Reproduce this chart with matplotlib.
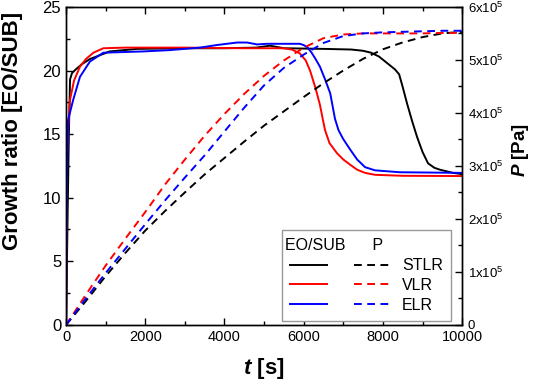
import numpy as np
import matplotlib.pyplot as plt
from matplotlib.ticker import MultipleLocator, FuncFormatter
from matplotlib.lines import Line2D

plt.rcParams['font.family'] = ['Liberation Sans', 'DejaVu Sans']
plt.rcParams['mathtext.fontset'] = 'custom'
plt.rcParams['mathtext.rm'] = 'Liberation Sans'
plt.rcParams['mathtext.it'] = 'Liberation Sans:italic'
plt.rcParams['mathtext.bf'] = 'Liberation Sans:bold'
plt.rcParams['mathtext.bfit'] = 'Liberation Sans:italic:bold'
plt.rcParams['mathtext.default'] = 'regular'

# growth ratio EO/SUB vs time, one array pair per reactor
t_stlr = [0, 40, 70, 100, 150, 250, 400, 600, 1100, 1800, 3000, 4000, 4800, 5150, 5500,
          6500, 7200, 7500, 7700, 7900, 8100, 8300, 8410, 8500, 8610, 8740, 8860, 9000, 9140,
          9300, 9440, 9770, 10000]
g_stlr = [0, 9, 15, 19.3, 19.8, 20.1, 20.5, 20.9, 21.5, 21.7, 21.75, 21.75, 21.8, 21.95, 21.75,
          21.7, 21.65, 21.55, 21.4, 21.1, 20.6, 20.1, 19.7, 18.7, 17.4, 16.0, 14.8, 13.6, 12.7,
          12.35, 12.2, 11.95, 11.85]

t_vlr = [0, 20, 50, 100, 200, 350, 500, 690, 940, 1500, 3000, 4500, 5480, 5700, 5900, 6050,
         6160, 6300, 6410, 6480, 6540, 6650, 6840, 7000, 7170, 7350, 7550, 7800, 8500, 10000]
g_vlr = [0, 13, 15.5, 17.7, 19.2, 20.3, 20.9, 21.4, 21.75, 21.8, 21.8, 21.75, 21.75, 21.65, 21.35, 20.8,
         20.0, 18.6, 17.3, 16.2, 15.3, 14.3, 13.5, 13.0, 12.6, 12.2, 11.95, 11.8, 11.72, 11.7]

t_elr = [0, 20, 50, 180, 350, 600, 940, 1950, 2600, 3380, 3800, 4320, 4570, 4820, 5070, 5900,
         6000, 6100, 6200, 6300, 6410, 6540, 6670, 6730, 6790, 6880, 7000, 7170, 7350, 7550,
         7800, 8430, 10000]
g_elr = [0, 11, 16.1, 17.7, 19.5, 20.7, 21.4, 21.5, 21.6, 21.8, 22.0, 22.2, 22.2, 22.05, 22.1, 22.1,
         22.0, 21.8, 21.4, 20.9, 20.3, 19.3, 18.2, 17.2, 16.2, 15.3, 14.6, 13.8, 13.0, 12.4,
         12.15, 12.0, 11.95]

# pressure, in units of 1e5 Pa
t_p = [0, 500, 1000, 1500, 2000, 2500, 3000, 3500, 4000, 4500, 5000, 5500, 6000, 6500, 7000,
       7500, 8000, 8500, 9000, 9500, 10000]
p_stlr = [0, 0.45, 0.92, 1.36, 1.78, 2.15, 2.5, 2.84, 3.15, 3.46, 3.76, 4.03, 4.3, 4.56, 4.8,
          5.02, 5.2, 5.33, 5.43, 5.5, 5.53]
p_vlr = [0, 0.57, 1.12, 1.63, 2.13, 2.65, 3.12, 3.57, 3.98, 4.36, 4.7, 4.99, 5.23, 5.41, 5.48,
         5.5, 5.5, 5.5, 5.5, 5.51, 5.51]
p_elr = [0, 0.5, 0.98, 1.44, 1.9, 2.35, 2.78, 3.2, 3.65, 4.1, 4.52, 4.85, 5.1, 5.32, 5.45,
         5.5, 5.52, 5.53, 5.54, 5.55, 5.55]

fig = plt.figure(figsize=(5.33, 3.84), dpi=100)
ax = fig.add_axes([0.124, 0.154, 0.743, 0.828])
ax2 = ax.twinx()

lw = 1.4
dash = (4, 2.8)
for t, g, c in [(t_stlr, g_stlr, 'black'), (t_vlr, g_vlr, 'red'), (t_elr, g_elr, 'blue')]:
    ax.plot(t, g, color=c, lw=lw)
for p, c in [(p_stlr, 'black'), (p_vlr, 'red'), (p_elr, 'blue')]:
    ax2.plot(t_p, np.array(p) * 1e5, color=c, lw=lw, dashes=dash)

ax.set_xlim(0, 10000)
ax.set_ylim(0, 25)
ax2.set_ylim(0, 6e5)

ax.xaxis.set_major_locator(MultipleLocator(2000))
ax.xaxis.set_minor_locator(MultipleLocator(1000))
ax.yaxis.set_major_locator(MultipleLocator(5))
ax.yaxis.set_minor_locator(MultipleLocator(2.5))
ax2.yaxis.set_major_locator(MultipleLocator(1e5))
ax2.yaxis.set_minor_locator(MultipleLocator(0.5e5))


def fmt_p(v, pos):
    n = int(round(v / 1e5))
    return '0' if n == 0 else r'$%dx10^{5}$' % n


ax2.yaxis.set_major_formatter(FuncFormatter(fmt_p))

ax.tick_params(which='both', direction='in', top=True, right=False, width=1)
ax.tick_params(which='major', length=5)
ax.tick_params(which='minor', length=3)
ax.tick_params(axis='x', labelsize=10.5, pad=4)
ax.tick_params(axis='y', labelsize=12)
ax2.tick_params(which='both', direction='in', width=1, labelsize=9.5, pad=4)
ax2.tick_params(which='major', length=5)
ax2.tick_params(which='minor', length=3)
for a in (ax, ax2):
    for s in a.spines.values():
        s.set_linewidth(1)

ax.set_xlabel(r'$\mathbfit{t}$ [s]', fontsize=16, fontweight='bold')
ax.xaxis.set_label_coords(0.5, -0.097)
ax.set_ylabel('Growth ratio [EO/SUB]', fontsize=16, fontweight='bold')
ax.yaxis.set_label_coords(-0.109, 0.61)
ax2.set_ylabel(r'$\mathbfit{P}$ [Pa]', fontsize=13.5, fontweight='bold')
ax2.yaxis.set_label_coords(1.121, 0.55)

handles = [Line2D([], [], color='black', lw=lw), Line2D([], [], color='red', lw=lw),
           Line2D([], [], color='blue', lw=lw),
           Line2D([], [], color='black', lw=lw, dashes=dash), Line2D([], [], color='red', lw=lw, dashes=dash),
           Line2D([], [], color='blue', lw=lw, dashes=dash)]
labels = ['', '', '', 'STLR', 'VLR', 'ELR']
leg = ax.legend(handles, labels, ncol=2, title='EO/SUB      P', alignment='left',
                loc='lower right', bbox_to_anchor=(0.972, 0.013), borderaxespad=0,
                fontsize=11.5, title_fontsize=11.5,
                fancybox=False, edgecolor='#999999', framealpha=1, handlelength=2.3,
                handletextpad=0.7, columnspacing=1.0, labelspacing=0.3, borderpad=0.5)
leg.get_frame().set_linewidth(1)
# pull the header text a little left of the handle column, as in the original
leg.get_title().set_position((-5, 0))

plt.savefig('out.png', dpi=100)
